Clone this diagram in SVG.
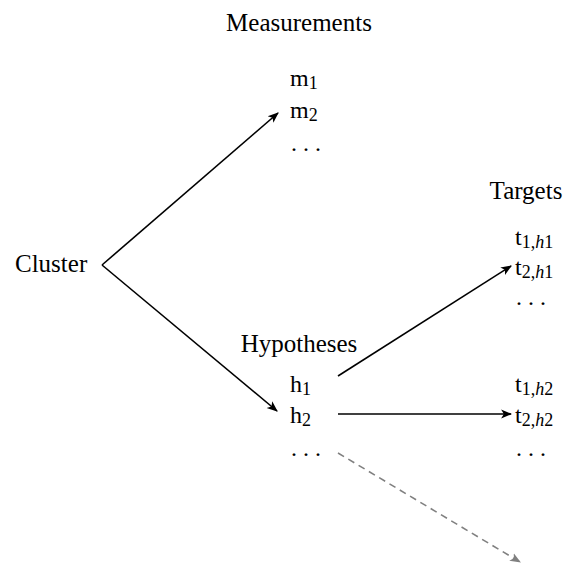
<svg xmlns="http://www.w3.org/2000/svg" width="574" height="564" viewBox="0 0 574 564">
<defs>
<marker id="ah" viewBox="0 0 10 10" refX="9" refY="5" markerWidth="11" markerHeight="11" markerUnits="userSpaceOnUse" orient="auto">
<path d="M0,1 L10,5 L0,9 L2.5,5 Z" fill="#000"/>
</marker>
<marker id="ahg" viewBox="0 0 10 10" refX="9" refY="5" markerWidth="11" markerHeight="11" markerUnits="userSpaceOnUse" orient="auto">
<path d="M0,1 L10,5 L0,9 L2.5,5 Z" fill="#808080"/>
</marker>
</defs>
<style>
text{font-family:"Liberation Serif","DejaVu Serif",serif;font-size:25px;fill:#000}
.m{font-size:24px}
.s{font-size:18px}
.i{font-style:italic}
.c{stroke:#000;stroke-width:1.6;fill:none}
.d{stroke:#808080;stroke-width:1.6;fill:none;stroke-dasharray:7,5}
</style>
<rect width="574" height="564" fill="#fff"/>
<g id="connectors">
<path class="c" d="M102,265 L278,113" marker-end="url(#ah)"/>
<path class="c" d="M102,265 L277,411" marker-end="url(#ah)"/>
<path class="c" d="M338,376 L511,266" marker-end="url(#ah)"/>
<path class="c" d="M338,414 L511,414" marker-end="url(#ah)"/>
<path class="d" d="M338,453 L520,562" marker-end="url(#ahg)"/>
</g>
<g id="cluster"><text x="15" y="272">Cluster</text></g>
<g id="measurements">
<text x="299" y="31" text-anchor="middle">Measurements</text>
<text class="m" x="290" y="86">m<tspan class="s" dy="3">1</tspan></text>
<text class="m" x="290" y="118">m<tspan class="s" dy="3">2</tspan></text>
<text class="m" x="291" y="151">. . .</text>
</g>
<g id="hypotheses">
<text x="299" y="352" text-anchor="middle">Hypotheses</text>
<text class="m" x="290" y="392">h<tspan class="s" dy="3">1</tspan></text>
<text class="m" x="290" y="423">h<tspan class="s" dy="3">2</tspan></text>
<text class="m" x="291" y="456">. . .</text>
</g>
<g id="targets">
<text x="526" y="199" text-anchor="middle">Targets</text>
<text class="m" x="515" y="245">t<tspan class="s" dy="3">1,<tspan class="i">h</tspan>1</tspan></text>
<text class="m" x="515" y="275">t<tspan class="s" dy="3">2,<tspan class="i">h</tspan>1</tspan></text>
<text class="m" x="516" y="305">. . .</text>
<text class="m" x="515" y="392">t<tspan class="s" dy="3">1,<tspan class="i">h</tspan>2</tspan></text>
<text class="m" x="515" y="423">t<tspan class="s" dy="3">2,<tspan class="i">h</tspan>2</tspan></text>
<text class="m" x="516" y="456">. . .</text>
</g>
</svg>
